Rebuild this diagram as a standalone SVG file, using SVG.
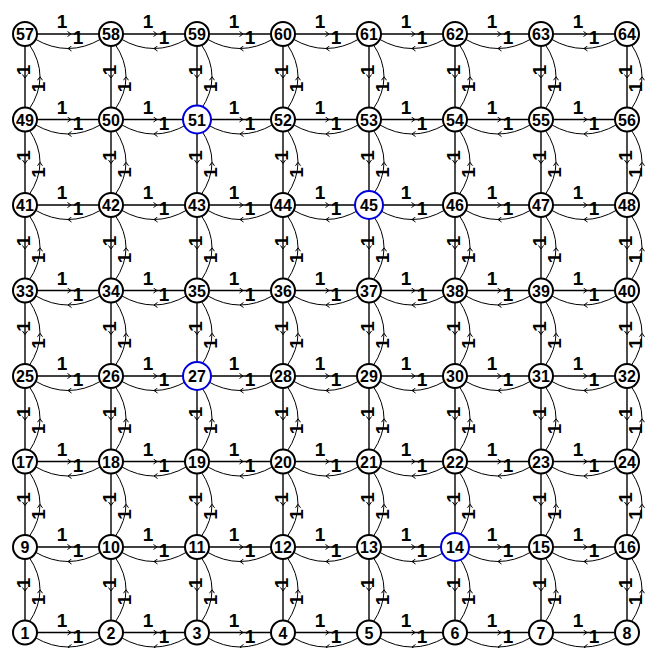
<svg xmlns="http://www.w3.org/2000/svg" width="645" height="648" viewBox="0 0 645 648">
<style>
.s{fill:none;stroke:#000;stroke-width:1.4;marker-mid:url(#a)}
.c{fill:none;stroke:#000;stroke-width:1;marker-mid:url(#a)}
.l{font-family:"Liberation Sans",Arial,sans-serif;font-weight:bold;font-size:19px;fill:#000;text-anchor:middle}
.n circle{fill:#fff;stroke:#000;stroke-width:2}
.h circle{fill:#fff;stroke:#0000dd;stroke-width:2}
.n text,.h text{font-family:"Liberation Sans",Arial,sans-serif;font-weight:bold;font-size:16px;fill:#000;text-anchor:middle}
</style>
<defs>
<marker id="a" markerWidth="6" markerHeight="6" refX="4" refY="3" orient="auto" markerUnits="userSpaceOnUse"><path d="M0.5,0.5L4,3L0.5,5.5" fill="none" stroke="#000" stroke-width="1"/></marker>
</defs>
<rect width="645" height="648" fill="#fff"/>
<g id="edges">
<path class="s" d="M37,34h34h28"/><path class="s" d="M123,34h34h28"/><path class="s" d="M209,34h34h28"/><path class="s" d="M295,34h34h28"/><path class="s" d="M381,34h34h28"/><path class="s" d="M467,34h34h28"/><path class="s" d="M553,34h34h28"/>
<path class="c" d="M101,39q-16.5,9.5 -33,9.5q-16.5,0 -33,-9.5"/><path class="c" d="M187,39q-16.5,9.5 -33,9.5q-16.5,0 -33,-9.5"/><path class="c" d="M273,39q-16.5,9.5 -33,9.5q-16.5,0 -33,-9.5"/><path class="c" d="M359,39q-16.5,9.5 -33,9.5q-16.5,0 -33,-9.5"/><path class="c" d="M445,39q-16.5,9.5 -33,9.5q-16.5,0 -33,-9.5"/><path class="c" d="M531,39q-16.5,9.5 -33,9.5q-16.5,0 -33,-9.5"/><path class="c" d="M617,39q-16.5,9.5 -33,9.5q-16.5,0 -33,-9.5"/>
<path class="s" d="M37,119.5h34h28"/><path class="s" d="M123,119.5h34h28"/><path class="s" d="M209,119.5h34h28"/><path class="s" d="M295,119.5h34h28"/><path class="s" d="M381,119.5h34h28"/><path class="s" d="M467,119.5h34h28"/><path class="s" d="M553,119.5h34h28"/>
<path class="c" d="M101,124.5q-16.5,9.5 -33,9.5q-16.5,0 -33,-9.5"/><path class="c" d="M187,124.5q-16.5,9.5 -33,9.5q-16.5,0 -33,-9.5"/><path class="c" d="M273,124.5q-16.5,9.5 -33,9.5q-16.5,0 -33,-9.5"/><path class="c" d="M359,124.5q-16.5,9.5 -33,9.5q-16.5,0 -33,-9.5"/><path class="c" d="M445,124.5q-16.5,9.5 -33,9.5q-16.5,0 -33,-9.5"/><path class="c" d="M531,124.5q-16.5,9.5 -33,9.5q-16.5,0 -33,-9.5"/><path class="c" d="M617,124.5q-16.5,9.5 -33,9.5q-16.5,0 -33,-9.5"/>
<path class="s" d="M37,205h34h28"/><path class="s" d="M123,205h34h28"/><path class="s" d="M209,205h34h28"/><path class="s" d="M295,205h34h28"/><path class="s" d="M381,205h34h28"/><path class="s" d="M467,205h34h28"/><path class="s" d="M553,205h34h28"/>
<path class="c" d="M101,210q-16.5,9.5 -33,9.5q-16.5,0 -33,-9.5"/><path class="c" d="M187,210q-16.5,9.5 -33,9.5q-16.5,0 -33,-9.5"/><path class="c" d="M273,210q-16.5,9.5 -33,9.5q-16.5,0 -33,-9.5"/><path class="c" d="M359,210q-16.5,9.5 -33,9.5q-16.5,0 -33,-9.5"/><path class="c" d="M445,210q-16.5,9.5 -33,9.5q-16.5,0 -33,-9.5"/><path class="c" d="M531,210q-16.5,9.5 -33,9.5q-16.5,0 -33,-9.5"/><path class="c" d="M617,210q-16.5,9.5 -33,9.5q-16.5,0 -33,-9.5"/>
<path class="s" d="M37,290.5h34h28"/><path class="s" d="M123,290.5h34h28"/><path class="s" d="M209,290.5h34h28"/><path class="s" d="M295,290.5h34h28"/><path class="s" d="M381,290.5h34h28"/><path class="s" d="M467,290.5h34h28"/><path class="s" d="M553,290.5h34h28"/>
<path class="c" d="M101,295.5q-16.5,9.5 -33,9.5q-16.5,0 -33,-9.5"/><path class="c" d="M187,295.5q-16.5,9.5 -33,9.5q-16.5,0 -33,-9.5"/><path class="c" d="M273,295.5q-16.5,9.5 -33,9.5q-16.5,0 -33,-9.5"/><path class="c" d="M359,295.5q-16.5,9.5 -33,9.5q-16.5,0 -33,-9.5"/><path class="c" d="M445,295.5q-16.5,9.5 -33,9.5q-16.5,0 -33,-9.5"/><path class="c" d="M531,295.5q-16.5,9.5 -33,9.5q-16.5,0 -33,-9.5"/><path class="c" d="M617,295.5q-16.5,9.5 -33,9.5q-16.5,0 -33,-9.5"/>
<path class="s" d="M37,376h34h28"/><path class="s" d="M123,376h34h28"/><path class="s" d="M209,376h34h28"/><path class="s" d="M295,376h34h28"/><path class="s" d="M381,376h34h28"/><path class="s" d="M467,376h34h28"/><path class="s" d="M553,376h34h28"/>
<path class="c" d="M101,381q-16.5,9.5 -33,9.5q-16.5,0 -33,-9.5"/><path class="c" d="M187,381q-16.5,9.5 -33,9.5q-16.5,0 -33,-9.5"/><path class="c" d="M273,381q-16.5,9.5 -33,9.5q-16.5,0 -33,-9.5"/><path class="c" d="M359,381q-16.5,9.5 -33,9.5q-16.5,0 -33,-9.5"/><path class="c" d="M445,381q-16.5,9.5 -33,9.5q-16.5,0 -33,-9.5"/><path class="c" d="M531,381q-16.5,9.5 -33,9.5q-16.5,0 -33,-9.5"/><path class="c" d="M617,381q-16.5,9.5 -33,9.5q-16.5,0 -33,-9.5"/>
<path class="s" d="M37,461.5h34h28"/><path class="s" d="M123,461.5h34h28"/><path class="s" d="M209,461.5h34h28"/><path class="s" d="M295,461.5h34h28"/><path class="s" d="M381,461.5h34h28"/><path class="s" d="M467,461.5h34h28"/><path class="s" d="M553,461.5h34h28"/>
<path class="c" d="M101,466.5q-16.5,9.5 -33,9.5q-16.5,0 -33,-9.5"/><path class="c" d="M187,466.5q-16.5,9.5 -33,9.5q-16.5,0 -33,-9.5"/><path class="c" d="M273,466.5q-16.5,9.5 -33,9.5q-16.5,0 -33,-9.5"/><path class="c" d="M359,466.5q-16.5,9.5 -33,9.5q-16.5,0 -33,-9.5"/><path class="c" d="M445,466.5q-16.5,9.5 -33,9.5q-16.5,0 -33,-9.5"/><path class="c" d="M531,466.5q-16.5,9.5 -33,9.5q-16.5,0 -33,-9.5"/><path class="c" d="M617,466.5q-16.5,9.5 -33,9.5q-16.5,0 -33,-9.5"/>
<path class="s" d="M37,547h34h28"/><path class="s" d="M123,547h34h28"/><path class="s" d="M209,547h34h28"/><path class="s" d="M295,547h34h28"/><path class="s" d="M381,547h34h28"/><path class="s" d="M467,547h34h28"/><path class="s" d="M553,547h34h28"/>
<path class="c" d="M101,552q-16.5,9.5 -33,9.5q-16.5,0 -33,-9.5"/><path class="c" d="M187,552q-16.5,9.5 -33,9.5q-16.5,0 -33,-9.5"/><path class="c" d="M273,552q-16.5,9.5 -33,9.5q-16.5,0 -33,-9.5"/><path class="c" d="M359,552q-16.5,9.5 -33,9.5q-16.5,0 -33,-9.5"/><path class="c" d="M445,552q-16.5,9.5 -33,9.5q-16.5,0 -33,-9.5"/><path class="c" d="M531,552q-16.5,9.5 -33,9.5q-16.5,0 -33,-9.5"/><path class="c" d="M617,552q-16.5,9.5 -33,9.5q-16.5,0 -33,-9.5"/>
<path class="s" d="M37,632.5h34h28"/><path class="s" d="M123,632.5h34h28"/><path class="s" d="M209,632.5h34h28"/><path class="s" d="M295,632.5h34h28"/><path class="s" d="M381,632.5h34h28"/><path class="s" d="M467,632.5h34h28"/><path class="s" d="M553,632.5h34h28"/>
<path class="c" d="M101,637.5q-16.5,9.5 -33,9.5q-16.5,0 -33,-9.5"/><path class="c" d="M187,637.5q-16.5,9.5 -33,9.5q-16.5,0 -33,-9.5"/><path class="c" d="M273,637.5q-16.5,9.5 -33,9.5q-16.5,0 -33,-9.5"/><path class="c" d="M359,637.5q-16.5,9.5 -33,9.5q-16.5,0 -33,-9.5"/><path class="c" d="M445,637.5q-16.5,9.5 -33,9.5q-16.5,0 -33,-9.5"/><path class="c" d="M531,637.5q-16.5,9.5 -33,9.5q-16.5,0 -33,-9.5"/><path class="c" d="M617,637.5q-16.5,9.5 -33,9.5q-16.5,0 -33,-9.5"/>
<path class="s" d="M25,46v32v29.5"/><path class="s" d="M25,131.5v32v29.5"/><path class="s" d="M25,217v32v29.5"/><path class="s" d="M25,302.5v32v29.5"/><path class="s" d="M25,388v32v29.5"/><path class="s" d="M25,473.5v32v29.5"/><path class="s" d="M25,559v32v29.5"/>
<path class="c" d="M29,109.5q11,-16.375 11,-32.75q0,-16.375 -11,-32.75"/><path class="c" d="M29,195q11,-16.375 11,-32.75q0,-16.375 -11,-32.75"/><path class="c" d="M29,280.5q11,-16.375 11,-32.75q0,-16.375 -11,-32.75"/><path class="c" d="M29,366q11,-16.375 11,-32.75q0,-16.375 -11,-32.75"/><path class="c" d="M29,451.5q11,-16.375 11,-32.75q0,-16.375 -11,-32.75"/><path class="c" d="M29,537q11,-16.375 11,-32.75q0,-16.375 -11,-32.75"/><path class="c" d="M29,622.5q11,-16.375 11,-32.75q0,-16.375 -11,-32.75"/>
<path class="s" d="M111,46v32v29.5"/><path class="s" d="M111,131.5v32v29.5"/><path class="s" d="M111,217v32v29.5"/><path class="s" d="M111,302.5v32v29.5"/><path class="s" d="M111,388v32v29.5"/><path class="s" d="M111,473.5v32v29.5"/><path class="s" d="M111,559v32v29.5"/>
<path class="c" d="M115,109.5q11,-16.375 11,-32.75q0,-16.375 -11,-32.75"/><path class="c" d="M115,195q11,-16.375 11,-32.75q0,-16.375 -11,-32.75"/><path class="c" d="M115,280.5q11,-16.375 11,-32.75q0,-16.375 -11,-32.75"/><path class="c" d="M115,366q11,-16.375 11,-32.75q0,-16.375 -11,-32.75"/><path class="c" d="M115,451.5q11,-16.375 11,-32.75q0,-16.375 -11,-32.75"/><path class="c" d="M115,537q11,-16.375 11,-32.75q0,-16.375 -11,-32.75"/><path class="c" d="M115,622.5q11,-16.375 11,-32.75q0,-16.375 -11,-32.75"/>
<path class="s" d="M197,46v32v29.5"/><path class="s" d="M197,131.5v32v29.5"/><path class="s" d="M197,217v32v29.5"/><path class="s" d="M197,302.5v32v29.5"/><path class="s" d="M197,388v32v29.5"/><path class="s" d="M197,473.5v32v29.5"/><path class="s" d="M197,559v32v29.5"/>
<path class="c" d="M201,109.5q11,-16.375 11,-32.75q0,-16.375 -11,-32.75"/><path class="c" d="M201,195q11,-16.375 11,-32.75q0,-16.375 -11,-32.75"/><path class="c" d="M201,280.5q11,-16.375 11,-32.75q0,-16.375 -11,-32.75"/><path class="c" d="M201,366q11,-16.375 11,-32.75q0,-16.375 -11,-32.75"/><path class="c" d="M201,451.5q11,-16.375 11,-32.75q0,-16.375 -11,-32.75"/><path class="c" d="M201,537q11,-16.375 11,-32.75q0,-16.375 -11,-32.75"/><path class="c" d="M201,622.5q11,-16.375 11,-32.75q0,-16.375 -11,-32.75"/>
<path class="s" d="M283,46v32v29.5"/><path class="s" d="M283,131.5v32v29.5"/><path class="s" d="M283,217v32v29.5"/><path class="s" d="M283,302.5v32v29.5"/><path class="s" d="M283,388v32v29.5"/><path class="s" d="M283,473.5v32v29.5"/><path class="s" d="M283,559v32v29.5"/>
<path class="c" d="M287,109.5q11,-16.375 11,-32.75q0,-16.375 -11,-32.75"/><path class="c" d="M287,195q11,-16.375 11,-32.75q0,-16.375 -11,-32.75"/><path class="c" d="M287,280.5q11,-16.375 11,-32.75q0,-16.375 -11,-32.75"/><path class="c" d="M287,366q11,-16.375 11,-32.75q0,-16.375 -11,-32.75"/><path class="c" d="M287,451.5q11,-16.375 11,-32.75q0,-16.375 -11,-32.75"/><path class="c" d="M287,537q11,-16.375 11,-32.75q0,-16.375 -11,-32.75"/><path class="c" d="M287,622.5q11,-16.375 11,-32.75q0,-16.375 -11,-32.75"/>
<path class="s" d="M369,46v32v29.5"/><path class="s" d="M369,131.5v32v29.5"/><path class="s" d="M369,217v32v29.5"/><path class="s" d="M369,302.5v32v29.5"/><path class="s" d="M369,388v32v29.5"/><path class="s" d="M369,473.5v32v29.5"/><path class="s" d="M369,559v32v29.5"/>
<path class="c" d="M373,109.5q11,-16.375 11,-32.75q0,-16.375 -11,-32.75"/><path class="c" d="M373,195q11,-16.375 11,-32.75q0,-16.375 -11,-32.75"/><path class="c" d="M373,280.5q11,-16.375 11,-32.75q0,-16.375 -11,-32.75"/><path class="c" d="M373,366q11,-16.375 11,-32.75q0,-16.375 -11,-32.75"/><path class="c" d="M373,451.5q11,-16.375 11,-32.75q0,-16.375 -11,-32.75"/><path class="c" d="M373,537q11,-16.375 11,-32.75q0,-16.375 -11,-32.75"/><path class="c" d="M373,622.5q11,-16.375 11,-32.75q0,-16.375 -11,-32.75"/>
<path class="s" d="M455,46v32v29.5"/><path class="s" d="M455,131.5v32v29.5"/><path class="s" d="M455,217v32v29.5"/><path class="s" d="M455,302.5v32v29.5"/><path class="s" d="M455,388v32v29.5"/><path class="s" d="M455,473.5v32v29.5"/><path class="s" d="M455,559v32v29.5"/>
<path class="c" d="M459,109.5q11,-16.375 11,-32.75q0,-16.375 -11,-32.75"/><path class="c" d="M459,195q11,-16.375 11,-32.75q0,-16.375 -11,-32.75"/><path class="c" d="M459,280.5q11,-16.375 11,-32.75q0,-16.375 -11,-32.75"/><path class="c" d="M459,366q11,-16.375 11,-32.75q0,-16.375 -11,-32.75"/><path class="c" d="M459,451.5q11,-16.375 11,-32.75q0,-16.375 -11,-32.75"/><path class="c" d="M459,537q11,-16.375 11,-32.75q0,-16.375 -11,-32.75"/><path class="c" d="M459,622.5q11,-16.375 11,-32.75q0,-16.375 -11,-32.75"/>
<path class="s" d="M541,46v32v29.5"/><path class="s" d="M541,131.5v32v29.5"/><path class="s" d="M541,217v32v29.5"/><path class="s" d="M541,302.5v32v29.5"/><path class="s" d="M541,388v32v29.5"/><path class="s" d="M541,473.5v32v29.5"/><path class="s" d="M541,559v32v29.5"/>
<path class="c" d="M545,109.5q11,-16.375 11,-32.75q0,-16.375 -11,-32.75"/><path class="c" d="M545,195q11,-16.375 11,-32.75q0,-16.375 -11,-32.75"/><path class="c" d="M545,280.5q11,-16.375 11,-32.75q0,-16.375 -11,-32.75"/><path class="c" d="M545,366q11,-16.375 11,-32.75q0,-16.375 -11,-32.75"/><path class="c" d="M545,451.5q11,-16.375 11,-32.75q0,-16.375 -11,-32.75"/><path class="c" d="M545,537q11,-16.375 11,-32.75q0,-16.375 -11,-32.75"/><path class="c" d="M545,622.5q11,-16.375 11,-32.75q0,-16.375 -11,-32.75"/>
<path class="s" d="M627,46v32v29.5"/><path class="s" d="M627,131.5v32v29.5"/><path class="s" d="M627,217v32v29.5"/><path class="s" d="M627,302.5v32v29.5"/><path class="s" d="M627,388v32v29.5"/><path class="s" d="M627,473.5v32v29.5"/><path class="s" d="M627,559v32v29.5"/>
<path class="c" d="M631,109.5q11,-16.375 11,-32.75q0,-16.375 -11,-32.75"/><path class="c" d="M631,195q11,-16.375 11,-32.75q0,-16.375 -11,-32.75"/><path class="c" d="M631,280.5q11,-16.375 11,-32.75q0,-16.375 -11,-32.75"/><path class="c" d="M631,366q11,-16.375 11,-32.75q0,-16.375 -11,-32.75"/><path class="c" d="M631,451.5q11,-16.375 11,-32.75q0,-16.375 -11,-32.75"/><path class="c" d="M631,537q11,-16.375 11,-32.75q0,-16.375 -11,-32.75"/><path class="c" d="M631,622.5q11,-16.375 11,-32.75q0,-16.375 -11,-32.75"/>
</g>
<g id="edge-labels" class="l">
<text x="62" y="28">1</text><text x="148" y="28">1</text><text x="234" y="28">1</text><text x="320" y="28">1</text><text x="406" y="28">1</text><text x="492" y="28">1</text><text x="578" y="28">1</text>
<text x="78" y="44">1</text><text x="164" y="44">1</text><text x="250" y="44">1</text><text x="336" y="44">1</text><text x="422" y="44">1</text><text x="508" y="44">1</text><text x="594" y="44">1</text>
<text x="62" y="113.5">1</text><text x="148" y="113.5">1</text><text x="234" y="113.5">1</text><text x="320" y="113.5">1</text><text x="406" y="113.5">1</text><text x="492" y="113.5">1</text><text x="578" y="113.5">1</text>
<text x="78" y="129.5">1</text><text x="164" y="129.5">1</text><text x="250" y="129.5">1</text><text x="336" y="129.5">1</text><text x="422" y="129.5">1</text><text x="508" y="129.5">1</text><text x="594" y="129.5">1</text>
<text x="62" y="199">1</text><text x="148" y="199">1</text><text x="234" y="199">1</text><text x="320" y="199">1</text><text x="406" y="199">1</text><text x="492" y="199">1</text><text x="578" y="199">1</text>
<text x="78" y="215">1</text><text x="164" y="215">1</text><text x="250" y="215">1</text><text x="336" y="215">1</text><text x="422" y="215">1</text><text x="508" y="215">1</text><text x="594" y="215">1</text>
<text x="62" y="284.5">1</text><text x="148" y="284.5">1</text><text x="234" y="284.5">1</text><text x="320" y="284.5">1</text><text x="406" y="284.5">1</text><text x="492" y="284.5">1</text><text x="578" y="284.5">1</text>
<text x="78" y="300.5">1</text><text x="164" y="300.5">1</text><text x="250" y="300.5">1</text><text x="336" y="300.5">1</text><text x="422" y="300.5">1</text><text x="508" y="300.5">1</text><text x="594" y="300.5">1</text>
<text x="62" y="370">1</text><text x="148" y="370">1</text><text x="234" y="370">1</text><text x="320" y="370">1</text><text x="406" y="370">1</text><text x="492" y="370">1</text><text x="578" y="370">1</text>
<text x="78" y="386">1</text><text x="164" y="386">1</text><text x="250" y="386">1</text><text x="336" y="386">1</text><text x="422" y="386">1</text><text x="508" y="386">1</text><text x="594" y="386">1</text>
<text x="62" y="455.5">1</text><text x="148" y="455.5">1</text><text x="234" y="455.5">1</text><text x="320" y="455.5">1</text><text x="406" y="455.5">1</text><text x="492" y="455.5">1</text><text x="578" y="455.5">1</text>
<text x="78" y="471.5">1</text><text x="164" y="471.5">1</text><text x="250" y="471.5">1</text><text x="336" y="471.5">1</text><text x="422" y="471.5">1</text><text x="508" y="471.5">1</text><text x="594" y="471.5">1</text>
<text x="62" y="541">1</text><text x="148" y="541">1</text><text x="234" y="541">1</text><text x="320" y="541">1</text><text x="406" y="541">1</text><text x="492" y="541">1</text><text x="578" y="541">1</text>
<text x="78" y="557">1</text><text x="164" y="557">1</text><text x="250" y="557">1</text><text x="336" y="557">1</text><text x="422" y="557">1</text><text x="508" y="557">1</text><text x="594" y="557">1</text>
<text x="62" y="626.5">1</text><text x="148" y="626.5">1</text><text x="234" y="626.5">1</text><text x="320" y="626.5">1</text><text x="406" y="626.5">1</text><text x="492" y="626.5">1</text><text x="578" y="626.5">1</text>
<text x="78" y="642.5">1</text><text x="164" y="642.5">1</text><text x="250" y="642.5">1</text><text x="336" y="642.5">1</text><text x="422" y="642.5">1</text><text x="508" y="642.5">1</text><text x="594" y="642.5">1</text>
<text transform="translate(23,70) rotate(-90)" y="7">1</text><text transform="translate(23,155.5) rotate(-90)" y="7">1</text><text transform="translate(23,241) rotate(-90)" y="7">1</text><text transform="translate(23,326.5) rotate(-90)" y="7">1</text><text transform="translate(23,412) rotate(-90)" y="7">1</text><text transform="translate(23,497.5) rotate(-90)" y="7">1</text><text transform="translate(23,583) rotate(-90)" y="7">1</text>
<text transform="translate(38,87) rotate(-90)" y="7">1</text><text transform="translate(38,172.5) rotate(-90)" y="7">1</text><text transform="translate(38,258) rotate(-90)" y="7">1</text><text transform="translate(38,343.5) rotate(-90)" y="7">1</text><text transform="translate(38,429) rotate(-90)" y="7">1</text><text transform="translate(38,514.5) rotate(-90)" y="7">1</text><text transform="translate(38,600) rotate(-90)" y="7">1</text>
<text transform="translate(109,70) rotate(-90)" y="7">1</text><text transform="translate(109,155.5) rotate(-90)" y="7">1</text><text transform="translate(109,241) rotate(-90)" y="7">1</text><text transform="translate(109,326.5) rotate(-90)" y="7">1</text><text transform="translate(109,412) rotate(-90)" y="7">1</text><text transform="translate(109,497.5) rotate(-90)" y="7">1</text><text transform="translate(109,583) rotate(-90)" y="7">1</text>
<text transform="translate(124,87) rotate(-90)" y="7">1</text><text transform="translate(124,172.5) rotate(-90)" y="7">1</text><text transform="translate(124,258) rotate(-90)" y="7">1</text><text transform="translate(124,343.5) rotate(-90)" y="7">1</text><text transform="translate(124,429) rotate(-90)" y="7">1</text><text transform="translate(124,514.5) rotate(-90)" y="7">1</text><text transform="translate(124,600) rotate(-90)" y="7">1</text>
<text transform="translate(195,70) rotate(-90)" y="7">1</text><text transform="translate(195,155.5) rotate(-90)" y="7">1</text><text transform="translate(195,241) rotate(-90)" y="7">1</text><text transform="translate(195,326.5) rotate(-90)" y="7">1</text><text transform="translate(195,412) rotate(-90)" y="7">1</text><text transform="translate(195,497.5) rotate(-90)" y="7">1</text><text transform="translate(195,583) rotate(-90)" y="7">1</text>
<text transform="translate(210,87) rotate(-90)" y="7">1</text><text transform="translate(210,172.5) rotate(-90)" y="7">1</text><text transform="translate(210,258) rotate(-90)" y="7">1</text><text transform="translate(210,343.5) rotate(-90)" y="7">1</text><text transform="translate(210,429) rotate(-90)" y="7">1</text><text transform="translate(210,514.5) rotate(-90)" y="7">1</text><text transform="translate(210,600) rotate(-90)" y="7">1</text>
<text transform="translate(281,70) rotate(-90)" y="7">1</text><text transform="translate(281,155.5) rotate(-90)" y="7">1</text><text transform="translate(281,241) rotate(-90)" y="7">1</text><text transform="translate(281,326.5) rotate(-90)" y="7">1</text><text transform="translate(281,412) rotate(-90)" y="7">1</text><text transform="translate(281,497.5) rotate(-90)" y="7">1</text><text transform="translate(281,583) rotate(-90)" y="7">1</text>
<text transform="translate(296,87) rotate(-90)" y="7">1</text><text transform="translate(296,172.5) rotate(-90)" y="7">1</text><text transform="translate(296,258) rotate(-90)" y="7">1</text><text transform="translate(296,343.5) rotate(-90)" y="7">1</text><text transform="translate(296,429) rotate(-90)" y="7">1</text><text transform="translate(296,514.5) rotate(-90)" y="7">1</text><text transform="translate(296,600) rotate(-90)" y="7">1</text>
<text transform="translate(367,70) rotate(-90)" y="7">1</text><text transform="translate(367,155.5) rotate(-90)" y="7">1</text><text transform="translate(367,241) rotate(-90)" y="7">1</text><text transform="translate(367,326.5) rotate(-90)" y="7">1</text><text transform="translate(367,412) rotate(-90)" y="7">1</text><text transform="translate(367,497.5) rotate(-90)" y="7">1</text><text transform="translate(367,583) rotate(-90)" y="7">1</text>
<text transform="translate(382,87) rotate(-90)" y="7">1</text><text transform="translate(382,172.5) rotate(-90)" y="7">1</text><text transform="translate(382,258) rotate(-90)" y="7">1</text><text transform="translate(382,343.5) rotate(-90)" y="7">1</text><text transform="translate(382,429) rotate(-90)" y="7">1</text><text transform="translate(382,514.5) rotate(-90)" y="7">1</text><text transform="translate(382,600) rotate(-90)" y="7">1</text>
<text transform="translate(453,70) rotate(-90)" y="7">1</text><text transform="translate(453,155.5) rotate(-90)" y="7">1</text><text transform="translate(453,241) rotate(-90)" y="7">1</text><text transform="translate(453,326.5) rotate(-90)" y="7">1</text><text transform="translate(453,412) rotate(-90)" y="7">1</text><text transform="translate(453,497.5) rotate(-90)" y="7">1</text><text transform="translate(453,583) rotate(-90)" y="7">1</text>
<text transform="translate(468,87) rotate(-90)" y="7">1</text><text transform="translate(468,172.5) rotate(-90)" y="7">1</text><text transform="translate(468,258) rotate(-90)" y="7">1</text><text transform="translate(468,343.5) rotate(-90)" y="7">1</text><text transform="translate(468,429) rotate(-90)" y="7">1</text><text transform="translate(468,514.5) rotate(-90)" y="7">1</text><text transform="translate(468,600) rotate(-90)" y="7">1</text>
<text transform="translate(539,70) rotate(-90)" y="7">1</text><text transform="translate(539,155.5) rotate(-90)" y="7">1</text><text transform="translate(539,241) rotate(-90)" y="7">1</text><text transform="translate(539,326.5) rotate(-90)" y="7">1</text><text transform="translate(539,412) rotate(-90)" y="7">1</text><text transform="translate(539,497.5) rotate(-90)" y="7">1</text><text transform="translate(539,583) rotate(-90)" y="7">1</text>
<text transform="translate(554,87) rotate(-90)" y="7">1</text><text transform="translate(554,172.5) rotate(-90)" y="7">1</text><text transform="translate(554,258) rotate(-90)" y="7">1</text><text transform="translate(554,343.5) rotate(-90)" y="7">1</text><text transform="translate(554,429) rotate(-90)" y="7">1</text><text transform="translate(554,514.5) rotate(-90)" y="7">1</text><text transform="translate(554,600) rotate(-90)" y="7">1</text>
<text transform="translate(625,70) rotate(-90)" y="7">1</text><text transform="translate(625,155.5) rotate(-90)" y="7">1</text><text transform="translate(625,241) rotate(-90)" y="7">1</text><text transform="translate(625,326.5) rotate(-90)" y="7">1</text><text transform="translate(625,412) rotate(-90)" y="7">1</text><text transform="translate(625,497.5) rotate(-90)" y="7">1</text><text transform="translate(625,583) rotate(-90)" y="7">1</text>
<text transform="translate(635,87) rotate(-90)" y="7">1</text><text transform="translate(635,172.5) rotate(-90)" y="7">1</text><text transform="translate(635,258) rotate(-90)" y="7">1</text><text transform="translate(635,343.5) rotate(-90)" y="7">1</text><text transform="translate(635,429) rotate(-90)" y="7">1</text><text transform="translate(635,514.5) rotate(-90)" y="7">1</text><text transform="translate(635,600) rotate(-90)" y="7">1</text>
</g>
<g id="nodes">
<g id="n57" class="n" transform="translate(25,34)"><circle r="12"/><text y="6">57</text></g>
<g id="n58" class="n" transform="translate(111,34)"><circle r="12"/><text y="6">58</text></g>
<g id="n59" class="n" transform="translate(197,34)"><circle r="12"/><text y="6">59</text></g>
<g id="n60" class="n" transform="translate(283,34)"><circle r="12"/><text y="6">60</text></g>
<g id="n61" class="n" transform="translate(369,34)"><circle r="12"/><text y="6">61</text></g>
<g id="n62" class="n" transform="translate(455,34)"><circle r="12"/><text y="6">62</text></g>
<g id="n63" class="n" transform="translate(541,34)"><circle r="12"/><text y="6">63</text></g>
<g id="n64" class="n" transform="translate(627,34)"><circle r="12"/><text y="6">64</text></g>
<g id="n49" class="n" transform="translate(25,119.5)"><circle r="12"/><text y="6">49</text></g>
<g id="n50" class="n" transform="translate(111,119.5)"><circle r="12"/><text y="6">50</text></g>
<g id="n51" class="h" transform="translate(197,119.5)"><circle r="14"/><text y="6">51</text></g>
<g id="n52" class="n" transform="translate(283,119.5)"><circle r="12"/><text y="6">52</text></g>
<g id="n53" class="n" transform="translate(369,119.5)"><circle r="12"/><text y="6">53</text></g>
<g id="n54" class="n" transform="translate(455,119.5)"><circle r="12"/><text y="6">54</text></g>
<g id="n55" class="n" transform="translate(541,119.5)"><circle r="12"/><text y="6">55</text></g>
<g id="n56" class="n" transform="translate(627,119.5)"><circle r="12"/><text y="6">56</text></g>
<g id="n41" class="n" transform="translate(25,205)"><circle r="12"/><text y="6">41</text></g>
<g id="n42" class="n" transform="translate(111,205)"><circle r="12"/><text y="6">42</text></g>
<g id="n43" class="n" transform="translate(197,205)"><circle r="12"/><text y="6">43</text></g>
<g id="n44" class="n" transform="translate(283,205)"><circle r="12"/><text y="6">44</text></g>
<g id="n45" class="h" transform="translate(369,205)"><circle r="14"/><text y="6">45</text></g>
<g id="n46" class="n" transform="translate(455,205)"><circle r="12"/><text y="6">46</text></g>
<g id="n47" class="n" transform="translate(541,205)"><circle r="12"/><text y="6">47</text></g>
<g id="n48" class="n" transform="translate(627,205)"><circle r="12"/><text y="6">48</text></g>
<g id="n33" class="n" transform="translate(25,290.5)"><circle r="12"/><text y="6">33</text></g>
<g id="n34" class="n" transform="translate(111,290.5)"><circle r="12"/><text y="6">34</text></g>
<g id="n35" class="n" transform="translate(197,290.5)"><circle r="12"/><text y="6">35</text></g>
<g id="n36" class="n" transform="translate(283,290.5)"><circle r="12"/><text y="6">36</text></g>
<g id="n37" class="n" transform="translate(369,290.5)"><circle r="12"/><text y="6">37</text></g>
<g id="n38" class="n" transform="translate(455,290.5)"><circle r="12"/><text y="6">38</text></g>
<g id="n39" class="n" transform="translate(541,290.5)"><circle r="12"/><text y="6">39</text></g>
<g id="n40" class="n" transform="translate(627,290.5)"><circle r="12"/><text y="6">40</text></g>
<g id="n25" class="n" transform="translate(25,376)"><circle r="12"/><text y="6">25</text></g>
<g id="n26" class="n" transform="translate(111,376)"><circle r="12"/><text y="6">26</text></g>
<g id="n27" class="h" transform="translate(197,376)"><circle r="14"/><text y="6">27</text></g>
<g id="n28" class="n" transform="translate(283,376)"><circle r="12"/><text y="6">28</text></g>
<g id="n29" class="n" transform="translate(369,376)"><circle r="12"/><text y="6">29</text></g>
<g id="n30" class="n" transform="translate(455,376)"><circle r="12"/><text y="6">30</text></g>
<g id="n31" class="n" transform="translate(541,376)"><circle r="12"/><text y="6">31</text></g>
<g id="n32" class="n" transform="translate(627,376)"><circle r="12"/><text y="6">32</text></g>
<g id="n17" class="n" transform="translate(25,461.5)"><circle r="12"/><text y="6">17</text></g>
<g id="n18" class="n" transform="translate(111,461.5)"><circle r="12"/><text y="6">18</text></g>
<g id="n19" class="n" transform="translate(197,461.5)"><circle r="12"/><text y="6">19</text></g>
<g id="n20" class="n" transform="translate(283,461.5)"><circle r="12"/><text y="6">20</text></g>
<g id="n21" class="n" transform="translate(369,461.5)"><circle r="12"/><text y="6">21</text></g>
<g id="n22" class="n" transform="translate(455,461.5)"><circle r="12"/><text y="6">22</text></g>
<g id="n23" class="n" transform="translate(541,461.5)"><circle r="12"/><text y="6">23</text></g>
<g id="n24" class="n" transform="translate(627,461.5)"><circle r="12"/><text y="6">24</text></g>
<g id="n9" class="n" transform="translate(25,547)"><circle r="12"/><text y="6">9</text></g>
<g id="n10" class="n" transform="translate(111,547)"><circle r="12"/><text y="6">10</text></g>
<g id="n11" class="n" transform="translate(197,547)"><circle r="12"/><text y="6">11</text></g>
<g id="n12" class="n" transform="translate(283,547)"><circle r="12"/><text y="6">12</text></g>
<g id="n13" class="n" transform="translate(369,547)"><circle r="12"/><text y="6">13</text></g>
<g id="n14" class="h" transform="translate(455,547)"><circle r="14"/><text y="6">14</text></g>
<g id="n15" class="n" transform="translate(541,547)"><circle r="12"/><text y="6">15</text></g>
<g id="n16" class="n" transform="translate(627,547)"><circle r="12"/><text y="6">16</text></g>
<g id="n1" class="n" transform="translate(25,632.5)"><circle r="12"/><text y="6">1</text></g>
<g id="n2" class="n" transform="translate(111,632.5)"><circle r="12"/><text y="6">2</text></g>
<g id="n3" class="n" transform="translate(197,632.5)"><circle r="12"/><text y="6">3</text></g>
<g id="n4" class="n" transform="translate(283,632.5)"><circle r="12"/><text y="6">4</text></g>
<g id="n5" class="n" transform="translate(369,632.5)"><circle r="12"/><text y="6">5</text></g>
<g id="n6" class="n" transform="translate(455,632.5)"><circle r="12"/><text y="6">6</text></g>
<g id="n7" class="n" transform="translate(541,632.5)"><circle r="12"/><text y="6">7</text></g>
<g id="n8" class="n" transform="translate(627,632.5)"><circle r="12"/><text y="6">8</text></g>
</g>
</svg>
